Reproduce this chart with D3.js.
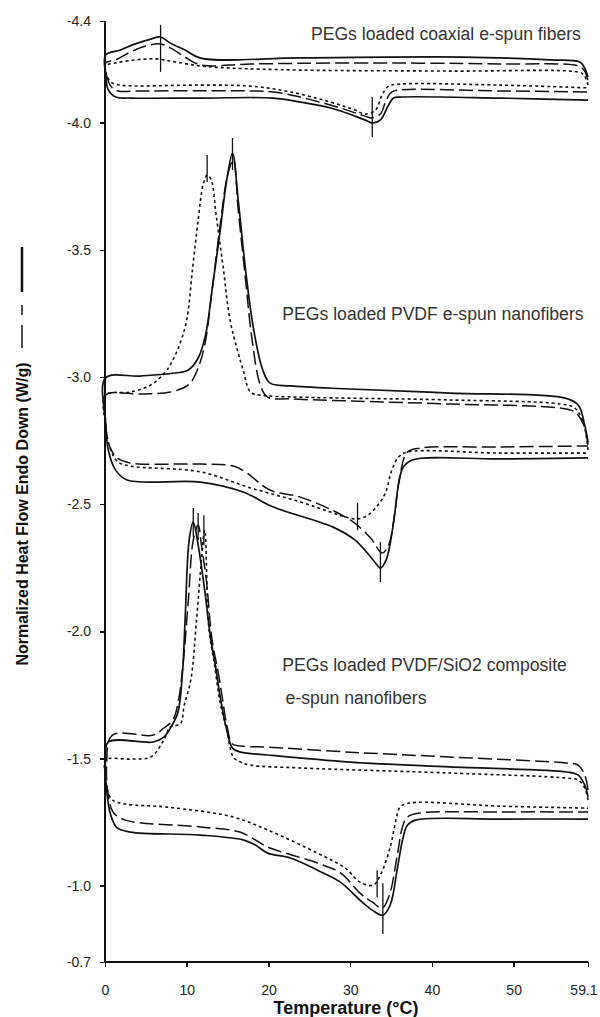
<!DOCTYPE html>
<html>
<head>
<meta charset="utf-8">
<style>
  body { margin: 0; background: #fff; }
  .axis path, .axis line { stroke: #111; stroke-width: 1.5px; shape-rendering: crispEdges; }
  .axis text { font-family: "Liberation Sans", Arial, sans-serif; font-size: 14px; fill: #222; }
  .label { font-family: "Liberation Sans", Arial, sans-serif; font-size: 17.6px; fill: #333; }
</style>
</head>
<body>
<svg width="600" height="1017"></svg>
<script src="https://cdnjs.cloudflare.com/ajax/libs/d3/7.8.5/d3.min.js"></script>
<script>

// tick values and labels
var xTicks = [0, 10, 20, 30, 40, 50, 59.1];
var xTickLabels = ["0", "10", "20", "30", "40", "50", "59.1"];
var yTicks = [-4.4, -4.0, -3.5, -3.0, -2.5, -2.0, -1.5, -1.0, -0.7];
var yTickLabels = ["-4.4", "-4.0", "-3.5", "-3.0", "-2.5", "-2.0", "-1.5", "-1.0", "-0.7"];

// each loop: cooling from 59.1 back to 0, then heating from 0 to 59.1  [T, W/g]
var coaxSolid = [[59.1,-4.180],[58.7,-4.215],[58.1,-4.239],[54.5,-4.247],[43.8,-4.258],[23.9,-4.255],[11.7,-4.254],[9.8,-4.286],[8.0,-4.313],[6.8,-4.337],[5.6,-4.329],[3.7,-4.310],[1.9,-4.286],[0.06,-4.266],
  [0.1,-4.188],[0.4,-4.129],[1.3,-4.101],[3.1,-4.097],[11.7,-4.097],[20.6,-4.097],[23.9,-4.081],[27.6,-4.058],[30.6,-4.026],[32.1,-4.007],[32.7,-3.999],[33.7,-4.011],[34.7,-4.070],[35.3,-4.097],[36.1,-4.101],[48.3,-4.097],[59.1,-4.089]];
var coaxDash = [[59.1,-4.168],[58.6,-4.207],[57.9,-4.223],[48.3,-4.231],[30.0,-4.235],[17.8,-4.231],[11.7,-4.227],[9.8,-4.258],[8.0,-4.294],[6.8,-4.310],[5.0,-4.302],[3.1,-4.278],[1.3,-4.247],[0.06,-4.235],
  [0.2,-4.188],[0.7,-4.144],[1.6,-4.125],[4.3,-4.125],[17.8,-4.125],[20.6,-4.121],[23.9,-4.101],[28.8,-4.058],[31.8,-4.026],[32.7,-4.019],[33.7,-4.034],[34.4,-4.089],[35.1,-4.121],[36.1,-4.129],[48.3,-4.125],[59.1,-4.121]];
var coaxDot = [[59.1,-4.148],[58.6,-4.188],[57.9,-4.199],[42.3,-4.203],[23.9,-4.207],[15.3,-4.215],[11.7,-4.223],[8.6,-4.239],[6.2,-4.251],[3.7,-4.247],[1.3,-4.235],[0.06,-4.223],
  [0.2,-4.188],[0.7,-4.160],[1.9,-4.148],[11.7,-4.148],[17.8,-4.144],[22.7,-4.121],[27.6,-4.081],[30.6,-4.050],[31.8,-4.034],[33.1,-4.050],[33.9,-4.109],[34.7,-4.144],[36.1,-4.152],[48.3,-4.148],[59.1,-4.137]];

var pvdfSolid = [[59.1,-2.744],[58.7,-2.811],[57.9,-2.890],[56.3,-2.917],[42.2,-2.937],[30.0,-2.953],[22.7,-2.965],[20.2,-2.976],[19.3,-3.028],[18.2,-3.185],[17.2,-3.421],[16.3,-3.696],[15.6,-3.881],[14.9,-3.775],[14.1,-3.578],[13.1,-3.342],[12.3,-3.165],[11.4,-3.075],[10.2,-3.028],[8.6,-3.016],[4.3,-3.004],[0.06,-2.996],
  [0.06,-2.831],[0.4,-2.713],[1.3,-2.634],[2.7,-2.595],[11.7,-2.587],[16.9,-2.548],[20.6,-2.489],[27.9,-2.410],[30.6,-2.359],[32.1,-2.308],[33.1,-2.269],[33.7,-2.249],[34.4,-2.281],[35.3,-2.426],[35.9,-2.575],[36.5,-2.646],[37.6,-2.674],[48.3,-2.678],[59.1,-2.682]];
var pvdfDash = [[59.1,-2.733],[58.6,-2.811],[57.5,-2.862],[55.7,-2.878],[42.2,-2.894],[30.0,-2.906],[22.7,-2.914],[19.9,-2.921],[19.0,-2.969],[18.0,-3.146],[17.2,-3.382],[16.3,-3.657],[15.7,-3.853],[15.0,-3.794],[14.1,-3.598],[13.1,-3.342],[12.2,-3.126],[11.2,-3.020],[10.2,-2.969],[8.0,-2.941],[4.3,-2.933],[0.06,-2.929],
  [0.06,-2.831],[0.5,-2.733],[1.5,-2.682],[3.1,-2.662],[11.7,-2.658],[15.7,-2.650],[17.2,-2.627],[18.6,-2.591],[19.7,-2.564],[20.8,-2.548],[23.9,-2.528],[30.0,-2.438],[32.5,-2.367],[33.9,-2.308],[34.7,-2.339],[35.5,-2.477],[36.1,-2.615],[37.0,-2.705],[38.6,-2.721],[48.3,-2.725],[59.1,-2.729]];
var pvdfDot = [[59.1,-2.713],[58.6,-2.811],[57.5,-2.878],[55.7,-2.894],[42.2,-2.910],[23.9,-2.921],[19.0,-2.929],[17.8,-2.941],[16.9,-3.028],[16.2,-3.106],[15.3,-3.224],[14.5,-3.421],[13.6,-3.637],[13.0,-3.775],[12.5,-3.794],[12.0,-3.755],[11.4,-3.617],[10.7,-3.421],[10.0,-3.224],[9.2,-3.134],[8.3,-3.067],[7.4,-3.020],[5.6,-2.969],[3.1,-2.941],[0.06,-2.929],
  [0.06,-2.811],[0.7,-2.713],[1.6,-2.666],[3.1,-2.650],[11.7,-2.627],[17.8,-2.564],[23.9,-2.509],[27.6,-2.469],[29.4,-2.450],[30.9,-2.442],[32.2,-2.458],[33.4,-2.497],[34.3,-2.544],[35.1,-2.634],[35.9,-2.685],[37.0,-2.705],[48.3,-2.701],[59.1,-2.701]];

var sioSolid = [[59.1,-1.349],[58.7,-1.396],[57.9,-1.435],[56.5,-1.447],[42.2,-1.467],[30.0,-1.486],[19.9,-1.514],[16.6,-1.525],[15.6,-1.541],[14.9,-1.612],[14.1,-1.742],[13.5,-1.868],[12.9,-1.978],[12.2,-2.162],[11.4,-2.339],[10.8,-2.430],[10.3,-2.359],[9.8,-2.045],[9.5,-1.848],[8.9,-1.679],[8.0,-1.620],[7.2,-1.584],[5.9,-1.565],[0.4,-1.565],
  [0.06,-1.494],[0.2,-1.376],[0.7,-1.278],[1.5,-1.227],[3.1,-1.211],[11.7,-1.199],[16.9,-1.180],[18.4,-1.160],[19.9,-1.128],[22.7,-1.109],[26.0,-1.061],[28.8,-1.014],[31.2,-0.943],[32.7,-0.904],[34.0,-0.884],[34.9,-0.924],[35.8,-1.073],[36.4,-1.179],[37.0,-1.238],[38.0,-1.258],[48.3,-1.262],[59.1,-1.262]];
var sioDash = [[59.1,-1.376],[58.7,-1.435],[57.9,-1.474],[56.5,-1.482],[42.2,-1.506],[30.0,-1.525],[19.9,-1.545],[16.6,-1.549],[15.6,-1.557],[14.9,-1.632],[14.4,-1.730],[13.8,-1.848],[13.1,-1.966],[12.4,-2.202],[11.8,-2.339],[11.4,-2.418],[10.8,-2.359],[10.2,-2.123],[9.6,-1.887],[9.0,-1.730],[8.3,-1.651],[7.2,-1.620],[5.9,-1.592],[0.9,-1.592],
  [0.2,-1.474],[0.4,-1.356],[1.0,-1.289],[2.5,-1.258],[11.7,-1.231],[16.5,-1.211],[18.4,-1.180],[19.9,-1.152],[26.0,-1.089],[28.8,-1.050],[31.2,-0.971],[32.7,-0.936],[33.9,-0.912],[34.8,-0.963],[35.8,-1.128],[36.4,-1.231],[37.0,-1.270],[38.6,-1.286],[48.3,-1.290],[59.1,-1.290]];
var sioDot = [[59.1,-1.337],[58.7,-1.384],[57.9,-1.415],[56.5,-1.423],[42.2,-1.443],[23.9,-1.463],[17.8,-1.474],[16.6,-1.486],[15.7,-1.506],[14.9,-1.612],[14.1,-1.718],[13.4,-1.868],[12.7,-2.017],[12.2,-2.398],[11.7,-2.241],[11.2,-2.045],[10.5,-1.809],[9.7,-1.710],[9.2,-1.636],[8.0,-1.624],[7.2,-1.573],[5.6,-1.506],[3.1,-1.498],[0.06,-1.494],
  [0.06,-1.435],[0.3,-1.376],[0.9,-1.337],[2.5,-1.321],[7.6,-1.309],[15.7,-1.270],[19.9,-1.219],[26.0,-1.128],[29.4,-1.069],[31.2,-1.014],[32.8,-1.002],[33.7,-1.042],[34.9,-1.152],[35.6,-1.258],[36.1,-1.309],[37.3,-1.325],[48.3,-1.313],[59.1,-1.305]];

// peak markers: [T, top, bottom]
var peakMarks = [[6.8,-4.385,-4.200],[32.7,-4.101,-3.944],
  [12.5,-3.873,-3.767],[15.6,-3.940,-3.814],[30.9,-2.505,-2.398],[33.7,-2.351,-2.194],
  [10.8,-2.485,-2.371],[11.4,-2.465,-2.359],[12.1,-2.457,-2.339],[33.3,-1.061,-0.955],[34.0,-1.010,-0.810]];

var groupLabels = [
  {text: "PEGs loaded coaxial e-spun fibers", t: 25.2, v: -4.35},
  {text: "PEGs loaded PVDF e-spun nanofibers", t: 21.7, v: -3.25},
  {text: "PEGs loaded PVDF/SiO2 composite", t: 21.7, v: -1.87},
  {text: "e-spun nanofibers", t: 22.1, v: -1.74}
];

var series = [
  {data: coaxSolid, style: "solid"}, {data: coaxDash, style: "dash"}, {data: coaxDot, style: "dot"},
  {data: pvdfSolid, style: "solid"}, {data: pvdfDash, style: "dash"}, {data: pvdfDot, style: "dot"},
  {data: sioSolid, style: "solid"}, {data: sioDash, style: "dash"}, {data: sioDot, style: "dot"}
];

var svg = d3.select("svg"),
    margin = {top: 21, right: 12, bottom: 55, left: 105},
    width = +svg.attr("width") - margin.left - margin.right,
    height = +svg.attr("height") - margin.top - margin.bottom,
    g = svg.append("g").attr("transform", "translate(" + margin.left + "," + margin.top + ")");

var x = d3.scaleLinear().domain([0, 59.1]).range([0, width]);
var y = d3.scaleLinear().domain([-4.4, -0.7]).range([0, height]);

var dashes = {solid: null, dash: "14,5", dot: "3,3"};
var widths = {solid: 1.7, dash: 1.5, dot: 1.6};

var line = d3.line()
    .x(function(d) { return x(d[0]); })
    .y(function(d) { return y(d[1]); })
    .curve(d3.curveCatmullRom.alpha(0.5));

g.selectAll(".curve")
    .data(series)
    .enter().append("path")
      .attr("class", "curve")
      .attr("fill", "none")
      .attr("stroke", "#111")
      .attr("stroke-width", function(d) { return widths[d.style]; })
      .attr("stroke-dasharray", function(d) { return dashes[d.style]; })
      .attr("d", function(d) { return line(d.data); });

g.selectAll(".mark")
    .data(peakMarks)
    .enter().append("line")
      .attr("class", "mark")
      .attr("x1", function(d) { return x(d[0]); })
      .attr("x2", function(d) { return x(d[0]); })
      .attr("y1", function(d) { return y(d[1]); })
      .attr("y2", function(d) { return y(d[2]); })
      .attr("stroke", "#111")
      .attr("stroke-width", 1.3);

var xAxis = g.append("g")
    .attr("class", "axis")
    .attr("transform", "translate(0," + height + ")")
    .call(d3.axisBottom(x).tickValues(xTicks).tickSize(5).tickPadding(18)
      .tickFormat(function(d, i) { return xTickLabels[i]; }))
    .call(function(a) { a.select(".domain").attr("d", "M0,0H" + width); });

// keep the last label inside the picture
xAxis.selectAll(".tick text").filter(function(d) { return d === 59.1; })
    .attr("text-anchor", "end").attr("dx", "0.65em");

g.append("g")
    .attr("class", "axis")
    .call(d3.axisLeft(y).tickValues(yTicks).tickSize(5).tickPadding(9)
      .tickFormat(function(d, i) { return yTickLabels[i]; }))
    .call(function(a) { a.select(".domain").attr("d", "M0,0V" + height); });

g.selectAll(".label")
    .data(groupLabels)
    .enter().append("text")
      .attr("class", "label")
      .attr("x", function(d) { return x(d.t); })
      .attr("y", function(d) { return y(d.v); })
      .attr("dy", "0.35em")
      .text(function(d) { return d.text; });

// axis titles
svg.append("text")
    .attr("x", 346)
    .attr("y", 1014)
    .attr("text-anchor", "middle")
    .style("font", "bold 18px 'Liberation Sans', Arial, sans-serif")
    .style("fill", "#111")
    .text("Temperature (\u00B0C)");

svg.append("text")
    .attr("transform", "translate(28,514) rotate(-90)")
    .attr("text-anchor", "middle")
    .style("font", "bold 16px 'Liberation Sans', Arial, sans-serif")
    .style("fill", "#111")
    .text("Normalized Heat Flow Endo Down (W/g)");

// legend strokes next to the y title
svg.append("line").attr("x1", 22).attr("x2", 22).attr("y1", 247).attr("y2", 292)
    .attr("stroke", "#111").attr("stroke-width", 2.5);
svg.append("line").attr("x1", 22).attr("x2", 22).attr("y1", 305).attr("y2", 348)
    .attr("stroke", "#111").attr("stroke-width", 1.5).attr("stroke-dasharray", "10,10,23");

</script>
</body>
</html>
